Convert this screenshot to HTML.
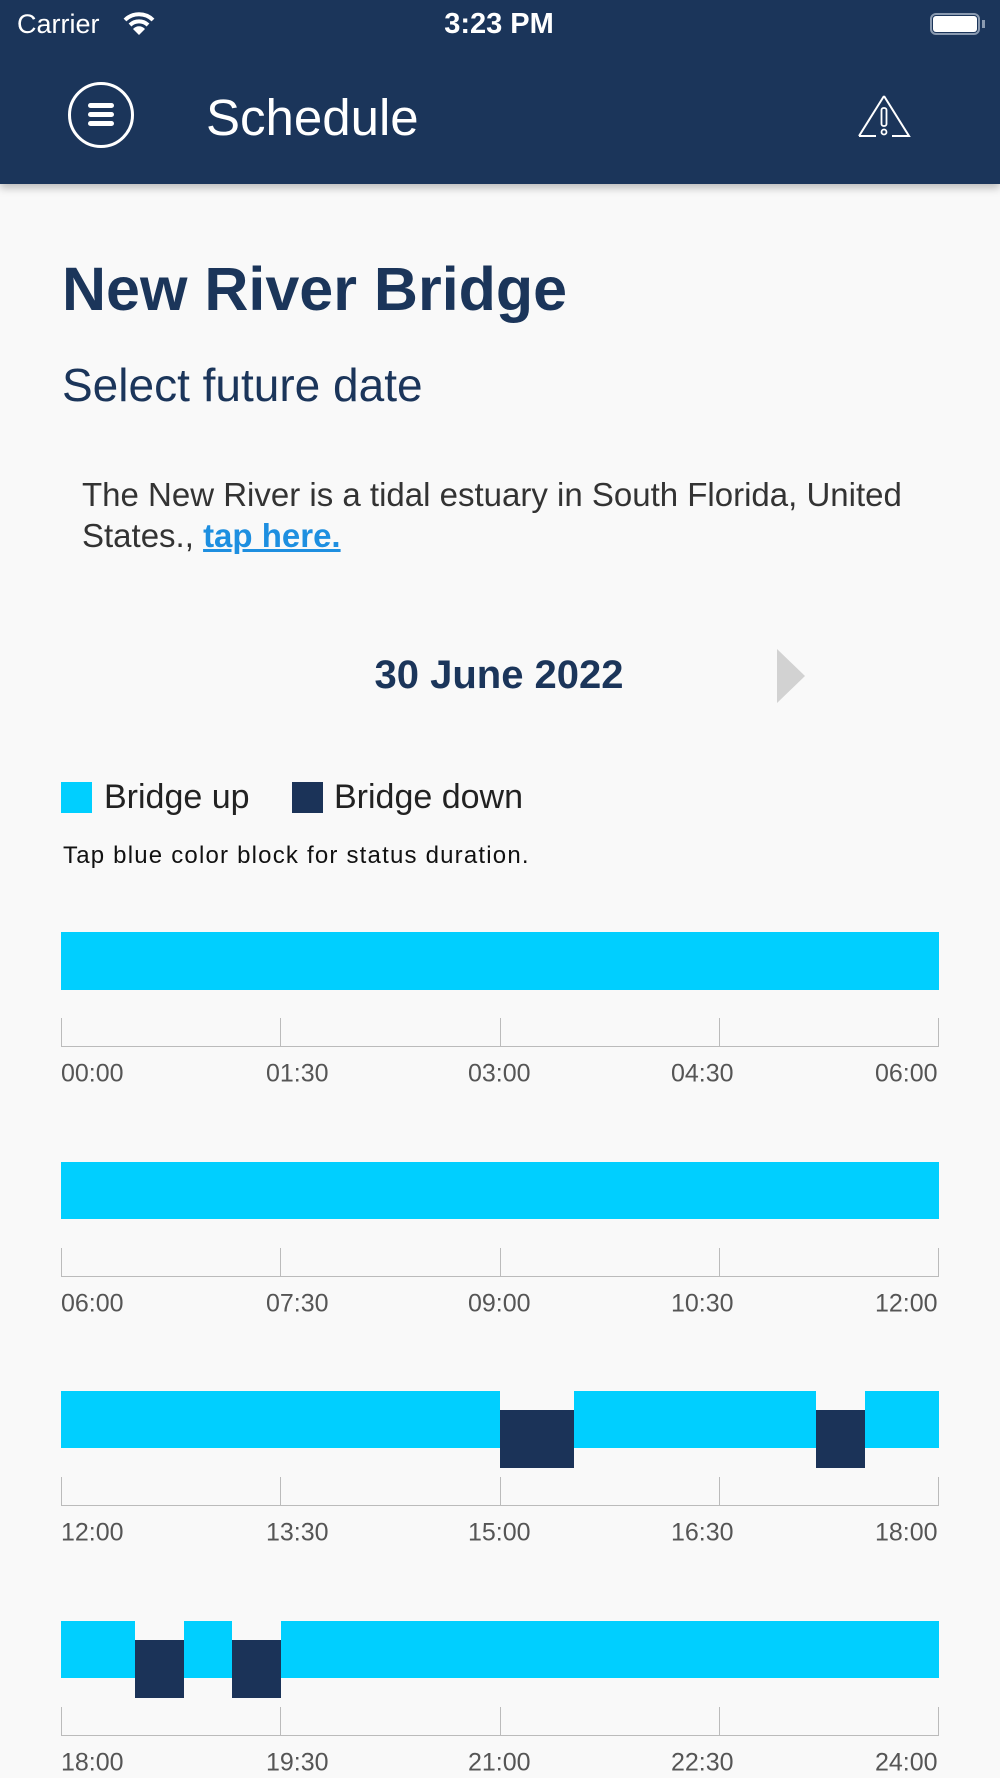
<!DOCTYPE html>
<html><head><meta charset="utf-8"><style>
body{margin:0;width:1000px;height:1778px;background:#f9f9f9;font-family:"Liberation Sans",sans-serif;position:relative;overflow:hidden}
.a{position:absolute;white-space:nowrap}
.hdr{position:absolute;left:0;top:0;width:1000px;height:184px;background:#1b355a;box-shadow:0 4px 8px rgba(0,0,0,0.25)}
.bar{position:absolute;background:#00cfff}
.dk{position:absolute;background:#1b3358}
.tick{position:absolute;width:1px;height:29px;background:#bbb}
.axis{position:absolute;left:61px;width:878px;height:1px;background:#bbb}
.lbl{position:absolute;font-size:25px;color:#555;transform:translateY(-50%)}
</style></head><body>
<div class="hdr"></div>
<div class="a" style="left:17px;top:9px;font-size:27px;color:#fff">Carrier</div>
<svg class="a" style="left:122px;top:10px" width="34" height="26" viewBox="0 0 34 26"><path d="M3 10 A20 20 0 0 1 31 10" stroke="#fff" stroke-width="4" fill="none"/><path d="M8 15 A13 13 0 0 1 26 15" stroke="#fff" stroke-width="4" fill="none"/><path d="M17 25 L11 19 A8 8 0 0 1 23 19 Z" fill="#fff"/></svg>
<div class="a" style="left:499px;top:8px;font-size:29px;color:#fff;font-weight:bold;transform:translateX(-50%)">3:23 PM</div>
<div class="a" style="left:930px;top:13px;width:50px;height:22px;border:2px solid #8a9ab0;border-radius:6px;box-sizing:border-box"></div>
<div class="a" style="left:933px;top:16px;width:44px;height:16px;background:#fff;border-radius:3px"></div>
<div class="a" style="left:982px;top:20px;width:3px;height:8px;background:#8a9ab0"></div>
<div class="a" style="left:68px;top:82px;width:66px;height:66px;border:3px solid #fff;border-radius:50%;box-sizing:border-box"></div>
<div class="a" style="left:88px;top:103px;width:26px;height:5px;background:#fff;border-radius:3px"></div>
<div class="a" style="left:88px;top:112px;width:26px;height:5px;background:#fff;border-radius:3px"></div>
<div class="a" style="left:88px;top:121px;width:26px;height:5px;background:#fff;border-radius:3px"></div>
<div class="a" style="left:206px;top:88px;font-size:51px;color:#fff;font-weight:300">Schedule</div>
<svg class="a" style="left:856px;top:93px" width="56" height="46" viewBox="0 0 56 46"><path d="M28 3 L53 43 L36 43 M20 43 L3 43 Z" fill="none" stroke="#fff" stroke-width="2"/><path d="M28 3 L3 43" stroke="#fff" stroke-width="2"/><rect x="25.5" y="15" width="5" height="18" rx="2" fill="none" stroke="#fff" stroke-width="1.8"/><circle cx="28" cy="39" r="2.5" fill="none" stroke="#fff" stroke-width="1.8"/></svg>

<div class="a" style="left:62px;top:254px;font-size:61px;font-weight:bold;color:#1b355a">New River Bridge</div>
<div class="a" style="left:62px;top:358px;font-size:46px;color:#1b355a">Select future date</div>
<div class="a" style="left:82px;top:474px;font-size:33px;color:#333;line-height:41px">The New River is a tidal estuary in South Florida, United<br>States., <a style="color:#1e8fe0;font-weight:bold;text-decoration:underline">tap here.</a></div>
<div class="a" style="left:499px;top:653px;font-size:40px;font-weight:bold;color:#1b355a;transform:translateX(-50%)">30 June 2022</div>
<svg class="a" style="left:777px;top:649px" width="28" height="54"><path d="M0 0 L28 27 L0 54Z" fill="#d2d2d2"/></svg>

<div class="a" style="left:61px;top:782px;width:31px;height:31px;background:#00cfff"></div>
<div class="a" style="left:104px;top:778px;font-size:34px;color:#222">Bridge up</div>
<div class="a" style="left:292px;top:782px;width:31px;height:31px;background:#1b3358"></div>
<div class="a" style="left:334px;top:778px;font-size:34px;color:#222">Bridge down</div>
<div class="a" style="left:63px;top:842px;font-size:24px;letter-spacing:1.2px;color:#111">Tap blue color block for status duration.</div>

<div class="bar" style="left:61px;top:932px;width:878px;height:58px"></div>
<div class="bar" style="left:61px;top:1162px;width:878px;height:57px"></div>

<div class="bar" style="left:61px;top:1391px;width:439px;height:57px"></div>
<div class="bar" style="left:574px;top:1391px;width:242px;height:57px"></div>
<div class="bar" style="left:865px;top:1391px;width:74px;height:57px"></div>
<div class="dk" style="left:500px;top:1410px;width:74px;height:58px"></div>
<div class="dk" style="left:816px;top:1410px;width:49px;height:58px"></div>

<div class="bar" style="left:61px;top:1621px;width:74px;height:57px"></div>
<div class="bar" style="left:184px;top:1621px;width:48px;height:57px"></div>
<div class="bar" style="left:281px;top:1621px;width:658px;height:57px"></div>
<div class="dk" style="left:135px;top:1640px;width:49px;height:58px"></div>
<div class="dk" style="left:232px;top:1640px;width:49px;height:58px"></div>

<div id="axes"></div>
<script>
var tops=[1018,1248,1477,1707],labs=[["00:00","01:30","03:00","04:30","06:00"],["06:00","07:30","09:00","10:30","12:00"],["12:00","13:30","15:00","16:30","18:00"],["18:00","19:30","21:00","22:30","24:00"]],xs=[61,280,500,719,938],lx=[61,266,468,671,875],h="";
for(var i=0;i<4;i++){var t=tops[i];h+='<div class="axis" style="top:'+(t+28)+'px"></div>';
for(var j=0;j<5;j++){h+='<div class="tick" style="left:'+xs[j]+'px;top:'+t+'px"></div>';
h+='<div class="lbl" style="left:'+lx[j]+'px;top:'+(t+56)+'px">'+labs[i][j]+'</div>';}}
document.getElementById("axes").innerHTML=h;
</script>
</body></html>
